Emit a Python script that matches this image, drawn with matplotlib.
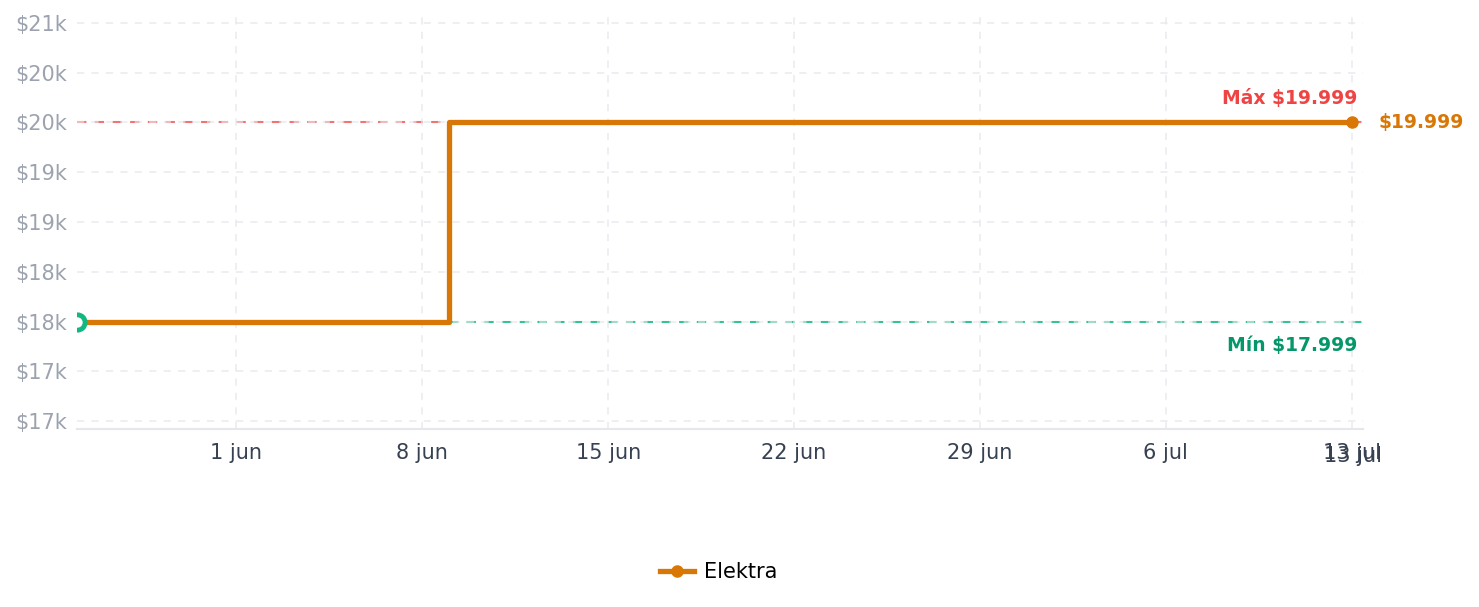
import numpy as np
import matplotlib.pyplot as plt
import matplotlib.dates as mdates
from matplotlib.ticker import FuncFormatter, FixedLocator
from datetime import datetime, timedelta

# data
dates = ["2025-05-26", "2025-06-09", "2025-07-13"]
prices = [17999, 19999, 19999]
series_name = "Elektra"
max_price = 19999
min_price = 17999
y_ticks = [16999, 17499, 17999, 18499, 18999, 19499, 19999, 20499, 20999]
x_ticks = ["2025-06-01", "2025-06-08", "2025-06-15", "2025-06-22", "2025-06-29", "2025-07-06", "2025-07-13"]
month_names = {5: "may", 6: "jun", 7: "jul"}

ORANGE = "#d97706"
RED = "#ef4444"
GREEN = "#059669"
GREEN_LT = "#10b981"

if __name__ == "__main__":
    d = [datetime.fromisoformat(s) for s in dates]
    xd = mdates.date2num(d)

    fig = plt.figure(figsize=(14.79, 6.07), dpi=100)
    ax = fig.add_axes([77 / 1479, 1 - 429 / 607, (1363 - 77) / 1479, (429 - 15) / 607])

    ax.axhline(max_price, color=RED, lw=1.5, ls=(0, (4.5, 4)), alpha=0.75, zorder=1)
    ax.axhline(min_price, color=GREEN_LT, lw=1.5, ls=(0, (4.5, 4)), alpha=0.85, zorder=1)

    ax.step(xd, prices, where="post", color=ORANGE, lw=3.8, zorder=3, label=series_name,
            marker="o", markersize=8, markevery=[2])
    ax.plot(xd[0], prices[0], "o", ms=11, mfc="white", mec=GREEN_LT, mew=3.5, zorder=5)

    ax.set_xlim(xd[0], xd[-1] + 0.42)
    ax.set_ylim(16919, 21079)

    ax.yaxis.set_major_locator(FixedLocator(y_ticks))
    ax.yaxis.set_major_formatter(FuncFormatter(lambda v, p: f"${v / 1000:.0f}k"))
    xt = [mdates.date2num(datetime.fromisoformat(s)) for s in x_ticks]
    ax.xaxis.set_major_locator(FixedLocator(xt))
    ax.xaxis.set_major_formatter(FuncFormatter(
        lambda v, p: f"{mdates.num2date(v).day} {month_names[mdates.num2date(v).month]}"))

    ax.tick_params(axis="y", length=0, labelsize=15, labelcolor="#9ca3af", pad=7)
    ax.tick_params(axis="x", length=0, labelsize=15, labelcolor="#374151", pad=10)
    ax.grid(True, color="#e5e7eb", ls=(0, (4, 4)), lw=1.3, alpha=0.7)
    for s in ["top", "right", "left"]:
        ax.spines[s].set_visible(False)
    ax.spines["bottom"].set_color("#e5e7eb")
    ax.spines["bottom"].set_linewidth(1.5)

    # duplicated last date label
    ax.text(xd[-1] + 0.03, -0.04, "13 jul", transform=ax.get_xaxis_transform(), ha="center", va="top",
            fontsize=15, color="#374151")

    ax.text(xd[-1] + 0.2, max_price + 150, f"Máx ${max_price / 1000:.3f}", ha="right", va="bottom",
            fontsize=13.5, fontweight="bold", color=RED)
    ax.text(xd[-1] + 0.2, min_price - 150, f"Mín ${min_price / 1000:.3f}", ha="right", va="top",
            fontsize=13.5, fontweight="bold", color=GREEN)
    ax.text(xd[-1] + 1.0, prices[-1], f"${prices[-1] / 1000:.3f}", ha="left", va="center",
            fontsize=13.5, fontweight="bold", color=ORANGE, clip_on=False)

    fig.legend(loc="center", bbox_to_anchor=(719 / 1479, 1 - 572 / 607), frameon=False,
               fontsize=15, handlelength=1.6, handletextpad=0.5)

    fig.savefig("out.png")
